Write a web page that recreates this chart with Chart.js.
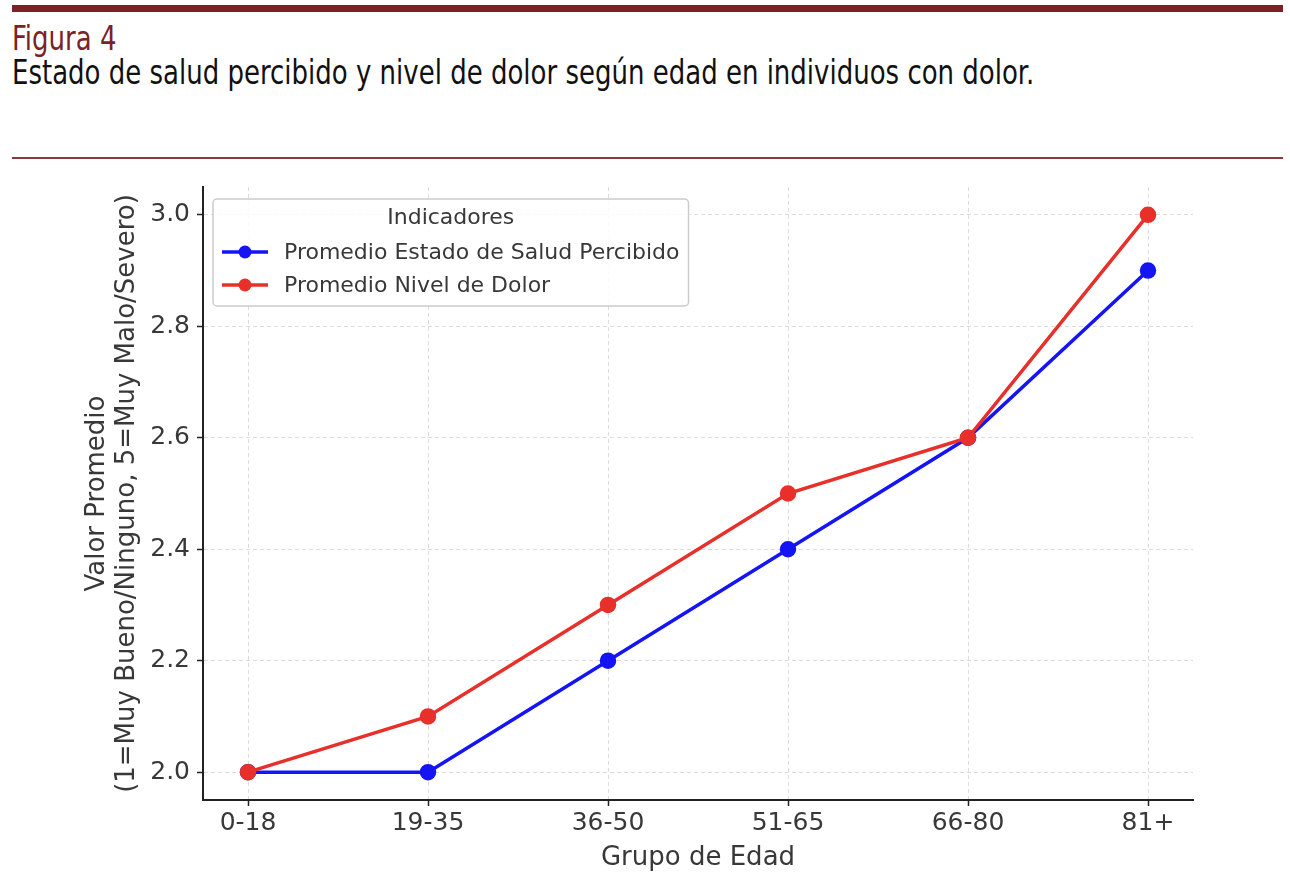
<!DOCTYPE html>
<html>
<head>
<meta charset="utf-8">
<script src="https://cdn.jsdelivr.net/npm/chart.js@4/dist/chart.umd.min.js"></script>
<style>
  body { margin: 0; background: #fff; width: 1290px; height: 880px; position: relative; overflow: hidden; }
  .bar { position: absolute; left: 12px; top: 5px; width: 1271px; height: 7px; background: #7a2226; }
  .rule { position: absolute; left: 12px; top: 157px; width: 1271px; height: 2px; background: #8a3a3c; }
  .fig, .ttl { position: absolute; left: 12px; font-family: "Liberation Sans Narrow", "DejaVu Sans Condensed", sans-serif;
    font-size: 34px; line-height: 36px; white-space: nowrap; transform: scaleX(0.85); transform-origin: 0 0; }
  .fig { top: 20px; color: #7a2226; }
  .ttl { top: 54px; color: #111; }
  #wrap { position: absolute; left: 0; top: 165px; width: 1290px; height: 715px; }
</style>
</head>
<body>
<div class="bar"></div>
<div class="fig">Figura 4</div>
<div class="ttl">Estado de salud percibido y nivel de dolor según edad en individuos con dolor.</div>
<div class="rule"></div>
<div id="wrap"><canvas id="chart"></canvas></div>
<script>
var ageGroups = ['0-18', '19-35', '36-50', '51-65', '66-80', '81+'];
var saludValues = [2.0, 2.0, 2.2, 2.4, 2.6, 2.9];
var dolorValues = [2.0, 2.1, 2.3, 2.5, 2.6, 3.0];
var yTicks = [2.0, 2.2, 2.4, 2.6, 2.8, 3.0];
var seriesNames = ['Promedio Estado de Salud Percibido', 'Promedio Nivel de Dolor'];
var legendTitle = 'Indicadores';

var textColor = '#383838';
var gridColor = '#dcdcdc';
var font = 'DejaVu Sans';

function toPoints(values) {
    return values.map(function (v, i) { return { x: i, y: v }; });
}

// legend drawn inside the plot, like matplotlib's upper-left box
var boxLegend = {
    id: 'boxLegend',
    afterDatasetsDraw: function (chart) {
        var ctx = chart.ctx;
        var area = chart.chartArea;
        var x = area.left + 10, y = area.top + 12;
        ctx.save();
        ctx.font = '22px "' + font + '"';
        var maxW = 0;
        chart.data.datasets.forEach(function (d) { maxW = Math.max(maxW, ctx.measureText(d.label).width); });
        var w = 71 + maxW + 9, h = 107;
        ctx.beginPath();
        ctx.roundRect(x, y, w, h, 4);
        ctx.fillStyle = 'rgba(255,255,255,0.85)';
        ctx.fill();
        ctx.strokeStyle = '#cccccc';
        ctx.lineWidth = 1.5;
        ctx.stroke();
        ctx.fillStyle = textColor;
        ctx.textBaseline = 'middle';
        ctx.textAlign = 'center';
        ctx.fillText(legendTitle, x + w / 2, y + 19);
        ctx.textAlign = 'left';
        chart.data.datasets.forEach(function (d, i) {
            var cy = y + 53 + i * 33;
            ctx.strokeStyle = d.borderColor;
            ctx.lineWidth = 3.5;
            ctx.beginPath();
            ctx.moveTo(x + 9, cy);
            ctx.lineTo(x + 55, cy);
            ctx.stroke();
            ctx.fillStyle = d.borderColor;
            ctx.beginPath();
            ctx.arc(x + 32, cy, 6.5, 0, Math.PI * 2);
            ctx.fill();
            ctx.fillStyle = textColor;
            ctx.fillText(d.label, x + 71, cy + 1);
        });
        ctx.restore();
    }
};

new Chart(document.getElementById('chart'), {
    type: 'line',
    data: {
        datasets: [{
            label: seriesNames[0], data: toPoints(saludValues),
            borderColor: '#1414f5', backgroundColor: '#1414f5', borderWidth: 3.5,
            pointRadius: 6.5, pointHoverRadius: 6.5, order: 1
        }, {
            label: seriesNames[1], data: toPoints(dolorValues),
            borderColor: '#e8302a', backgroundColor: '#e8302a', borderWidth: 3.5,
            pointRadius: 6.5, pointHoverRadius: 6.5, order: 0
        }]
    },
    plugins: [boxLegend],
    options: {
        responsive: true,
        maintainAspectRatio: false,
        animation: false,
        layout: { padding: { left: 0, right: 97, top: 20, bottom: 0 } },
        plugins: { legend: { display: false }, tooltip: { enabled: false } },
        scales: {
            x: {
                type: 'linear', min: -0.25, max: 5.25,
                afterBuildTicks: function (s) { s.ticks = ageGroups.map(function (g, i) { return { value: i }; }); },
                afterFit: function (s) { s.height = 80; },
                ticks: {
                    font: { family: font, size: 25 }, color: textColor, padding: 2, maxRotation: 0,
                    callback: function (v) { return ageGroups[v]; }
                },
                grid: { color: gridColor, lineWidth: 1, tickLength: 6, tickColor: '#222', tickWidth: 1.5 },
                border: { color: '#222', width: 2, dash: [4, 3] },
                title: { display: true, text: 'Grupo de Edad', color: textColor, font: { family: font, size: 26, lineHeight: 1.15 }, padding: { top: 0, bottom: 7 } }
            },
            y: {
                type: 'linear', min: 1.95, max: 3.05,
                afterBuildTicks: function (s) { s.ticks = yTicks.map(function (v) { return { value: v }; }); },
                afterFit: function (s) { s.width = 203; },
                ticks: {
                    font: { family: font, size: 25 }, color: textColor, padding: 7,
                    callback: function (v) { return v.toFixed(1); }
                },
                grid: { color: gridColor, lineWidth: 1, tickLength: 6, tickColor: '#222', tickWidth: 1.5 },
                border: { color: '#222', width: 2, dash: [4, 3] },
                title: {
                    display: true, text: ['Valor Promedio', '(1=Muy Bueno/Ninguno, 5=Muy Malo/Severo)'],
                    color: textColor, font: { family: font, size: 26, lineHeight: 1.15 }, padding: { top: 82, bottom: 0 }
                }
            }
        }
    }
});
</script>
</body>
</html>
